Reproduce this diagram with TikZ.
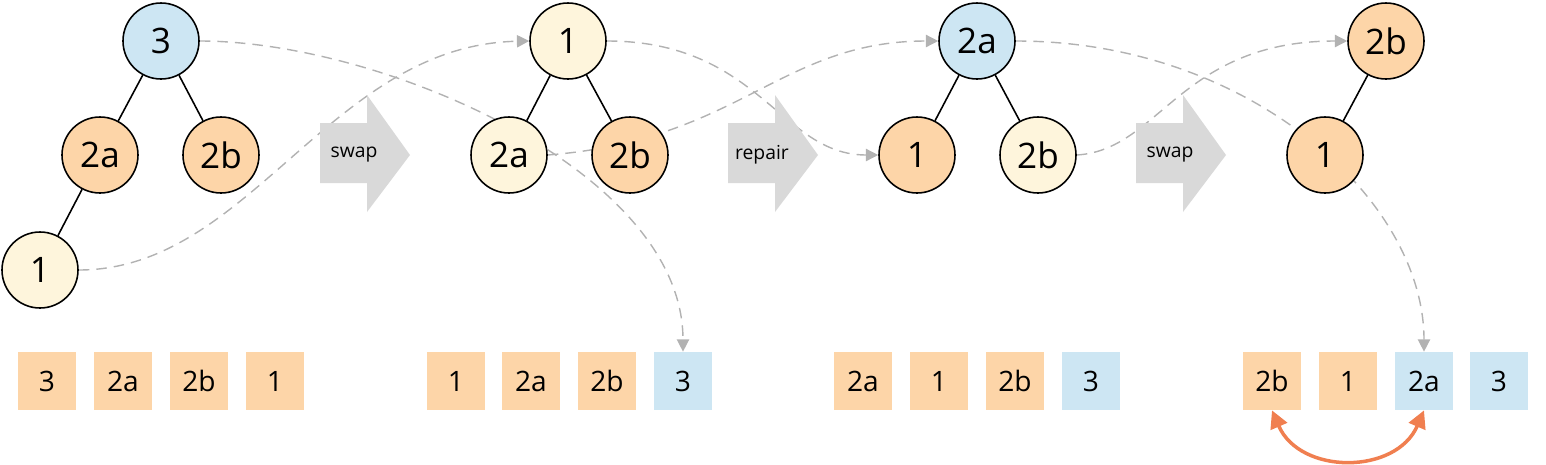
\documentclass[tikz,border=0pt]{standalone}
\usepackage{fontspec}
\setmainfont{Open Sans}
\usetikzlibrary{arrows.meta, backgrounds}

\definecolor{heapblue}{HTML}{CDE6F3}
\definecolor{heaporange}{HTML}{FDD5A8}
\definecolor{heapyellow}{HTML}{FEF5DC}
\definecolor{swaporange}{HTML}{F07F50}

\newcommand{\phasearrow}[3]{% x of left edge, name, label
  \fill[black!15] (#1,123) -- ++(47,0) -- ++(0,-28) -- ++(43,60) -- ++(-43,57) -- ++(0,-29) -- ++(-47,0) -- cycle;
  \node[font=\fontsize{11}{11}\selectfont] (#2) at (#1+34,155) {#3};
}

\begin{document}
\begin{tikzpicture}[
  x=0.02cm, y=-0.02cm,
  vert/.style = {draw, line width=0.9pt, circle, minimum size=76*0.02cm, inner sep=0pt, font=\fontsize{20}{20}\selectfont},
  cell/.style = {minimum size=58*0.02cm, inner sep=0pt, font=\fontsize{16}{16}\selectfont},
  edge/.style = {line width=0.9pt},
  move/.style = {line width=0.8pt, dash pattern=on 6pt off 4pt, black!30, -{Triangle[width=7pt,length=7pt]}}
]
  \useasboundingbox (0,0) rectangle (1546,464);

  % Trees
  \node[vert, fill=heapblue]   (t3)  at (161,41)  {3};
  \node[vert, fill=heaporange] (t2a) at (100,155) {2a};
  \node[vert, fill=heaporange] (t2b) at (221,155) {2b};
  \node[vert, fill=heapyellow] (t1)  at (40,270)  {1};
  \draw[edge] (t3) -- (t2a) (t3) -- (t2b) (t2a) -- (t1);

  \node[vert, fill=heapyellow] (u1)  at (568,41)  {1};
  \node[vert, fill=heapyellow] (u2a) at (509,155) {2a};
  \node[vert, fill=heaporange] (u2b) at (630,155) {2b};
  \draw[edge] (u1) -- (u2a) (u1) -- (u2b);

  \node[vert, fill=heapblue]   (v2a) at (977,41)  {2a};
  \node[vert, fill=heaporange] (v1)  at (917,155) {1};
  \node[vert, fill=heapyellow] (v2b) at (1038,155) {2b};
  \draw[edge] (v2a) -- (v1) (v2a) -- (v2b);

  \node[vert, fill=heaporange] (w2b) at (1386,41)  {2b};
  \node[vert, fill=heaporange] (w1)  at (1325,155) {1};
  \draw[edge] (w2b) -- (w1);

  % Steps
  \phasearrow{320}{s1}{swap}
  \phasearrow{728}{s2}{repair}
  \phasearrow{1136}{s3}{swap}

  % Arrays
  \node[cell, fill=heaporange] (a1) at (47,381)  {3};
  \node[cell, fill=heaporange] (a2) at (123,381) {2a};
  \node[cell, fill=heaporange] (a3) at (199,381) {2b};
  \node[cell, fill=heaporange] (a4) at (275,381) {1};

  \node[cell, fill=heaporange] (b1) at (456,381) {1};
  \node[cell, fill=heaporange] (b2) at (531,381) {2a};
  \node[cell, fill=heaporange] (b3) at (607,381) {2b};
  \node[cell, fill=heapblue]   (b4) at (683,381) {3};

  \node[cell, fill=heaporange] (c1) at (863,381)  {2a};
  \node[cell, fill=heaporange] (c2) at (939,381)  {1};
  \node[cell, fill=heaporange] (c3) at (1015,381) {2b};
  \node[cell, fill=heapblue]   (c4) at (1091,381) {3};

  \node[cell, fill=heaporange] (d1) at (1272,381) {2b};
  \node[cell, fill=heaporange] (d2) at (1348,381) {1};
  \node[cell, fill=heapblue]   (d3) at (1424,381) {2a};
  \node[cell, fill=heapblue]   (d4) at (1499,381) {3};

  % Moves
  \begin{scope}[on background layer]
    \draw[move] (t1.east) .. controls (250,270) and (330,45) .. (u1.west);
    \draw[move] (t3.east) .. controls (380,41) and (683,170) .. (b4.north);
    \draw[move] (u2a.east) .. controls (740,140) and (780,41) .. (v2a.west);
    \draw[move] (u1.east) .. controls (760,41) and (780,155) .. (v1.west);
    \draw[move] (v2b.east) .. controls (1160,150) and (1180,41) .. (w2b.west);
    \draw[move] (v2a.east) .. controls (1250,41) and (1424,200) .. (d3.north);
  \end{scope}
  \draw[swaporange, line width=2pt, {Triangle[width=10pt,length=10pt]}-{Triangle[width=10pt,length=10pt]}]
    (d1.south) .. controls (1300,475) and (1396,475) .. (d3.south);

\end{tikzpicture}
\end{document}
